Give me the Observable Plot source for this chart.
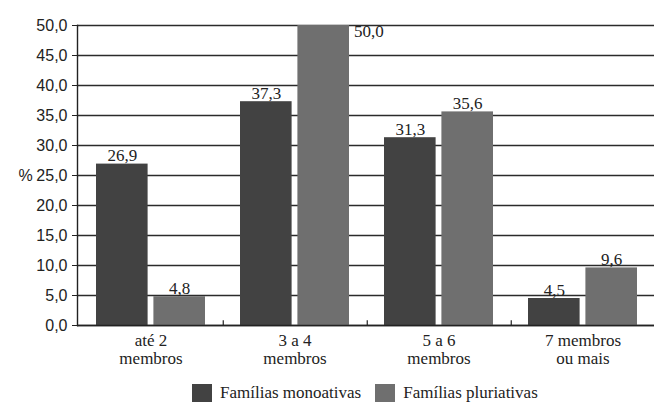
<!DOCTYPE html>
<html lang="pt">
<head>
<meta charset="utf-8">
<script src="https://cdn.jsdelivr.net/npm/d3@7"></script>
<script src="https://cdn.jsdelivr.net/npm/@observablehq/plot@0.6"></script>
<style>
  html, body { margin: 0; padding: 0; background: #fff; }
  #chart { width: 654px; }
  .lg-swatches-wrap .lg-swatch { margin-right: 14px !important; }
  .lg-swatch > svg { margin-right: 8px !important; }
  .serif { font-family: "Liberation Serif", "DejaVu Serif", serif !important; }
</style>
</head>
<body>
<div id="chart"></div>
<script>
// Household size groups (x axis)
const categories = ["até 2\nmembros", "3 a 4\nmembros", "5 a 6\nmembros", "7 membros\nou mais"];
// Share of families (%) in each group
const monoativas = [26.9, 37.3, 31.3, 4.5];
const pluriativas = [4.8, 50.0, 35.6, 9.6];
const series = ["Famílias monoativas", "Famílias pluriativas"];
const colors = ["#424242", "#6f6f6f"];
const yTicks = [0, 5, 10, 15, 20, 25, 30, 35, 40, 45, 50];

const fmt = v => v.toFixed(1).replace(".", ",");

const rows = categories.flatMap((c, i) => [
  {cat: c, series: series[0], value: monoativas[i]},
  {cat: c, series: series[1], value: pluriativas[i]}
]);
const mono = rows.filter(d => d.series === series[0]);
const pluri = rows.filter(d => d.series === series[1]);

const yMax = 50;
// half of one bar pair: each bar fills half the band minus a small gap
const halfInset = 57.4;
const barOffset = 28.7;

const serif = "Liberation Serif, DejaVu Serif, serif";
const sans = "Liberation Sans, Arial, sans-serif";
const ink = "#222";

const chart = Plot.plot({
  width: 654,
  height: 380,
  marginTop: 25,
  marginBottom: 55,
  marginLeft: 77,
  marginRight: 0,
  style: {background: "#fff", color: ink},
  x: {type: "band", domain: categories, range: [78, 656], paddingInner: 0.24, paddingOuter: 0.12},
  y: {domain: [0, yMax]},
  color: {domain: series, range: colors},
  marks: [
    Plot.gridY(yTicks, {stroke: "#2b2b2b", strokeOpacity: 1, strokeWidth: 1.4}),
    Plot.barY(mono, {x: "cat", y: "value", fill: "series", insetRight: halfInset}),
    Plot.barY(pluri, {x: "cat", y: "value", fill: "series", insetLeft: halfInset}),
    // small marks on the baseline between groups
    Plot.ruleX(categories.slice(0, -1), {x: d => d, dx: 72.25, y1: 0, y2: 0.8, stroke: ink, strokeWidth: 1.2}),
    Plot.frame({anchor: "left", stroke: ink, strokeWidth: 1.4}),
    Plot.ruleY([0], {stroke: ink, strokeWidth: 1.4}),
    Plot.axisY(yTicks, {
      tickSize: 5, tickPadding: 5, tickFormat: fmt, label: null,
      fontSize: 16, fontFamily: sans, stroke: ink
    }),
    Plot.axisX({
      tickSize: 0, tickPadding: 7, label: null, lineHeight: 1.1,
      fontSize: 17, fontFamily: serif, className: "serif"
    }),
    Plot.text(["%"], {frameAnchor: "left", dx: -59, fontSize: 16, fontFamily: sans, fill: ink}),
    // value labels above bars
    Plot.text(mono, {x: "cat", y: "value", text: d => fmt(d.value), dx: -barOffset, dy: -3,
      lineAnchor: "bottom", fontSize: 17, fontFamily: serif, className: "serif", fill: ink}),
    Plot.text(pluri.filter(d => d.value < yMax), {x: "cat", y: "value", text: d => fmt(d.value), dx: barOffset, dy: -3,
      lineAnchor: "bottom", fontSize: 17, fontFamily: serif, className: "serif", fill: ink}),
    // a bar reaching the top carries its label at its side
    Plot.text(pluri.filter(d => d.value >= yMax), {x: "cat", y: "value", text: d => fmt(d.value), dx: 59, dy: -1,
      textAnchor: "start", lineAnchor: "top", fontSize: 17, fontFamily: serif, className: "serif", fill: ink})
  ]
});

const legend = Plot.legend({
  color: {domain: series, range: colors},
  legend: "swatches",
  swatchWidth: 20,
  swatchHeight: 18,
  className: "lg",
  style: {
    fontSize: "17px", color: ink,
    marginLeft: "192px", marginTop: "3px", marginBottom: "0", minHeight: "19px"
  }
});
legend.classList.add("serif");

const root = document.getElementById("chart");
root.append(chart, legend);
</script>
</body>
</html>
